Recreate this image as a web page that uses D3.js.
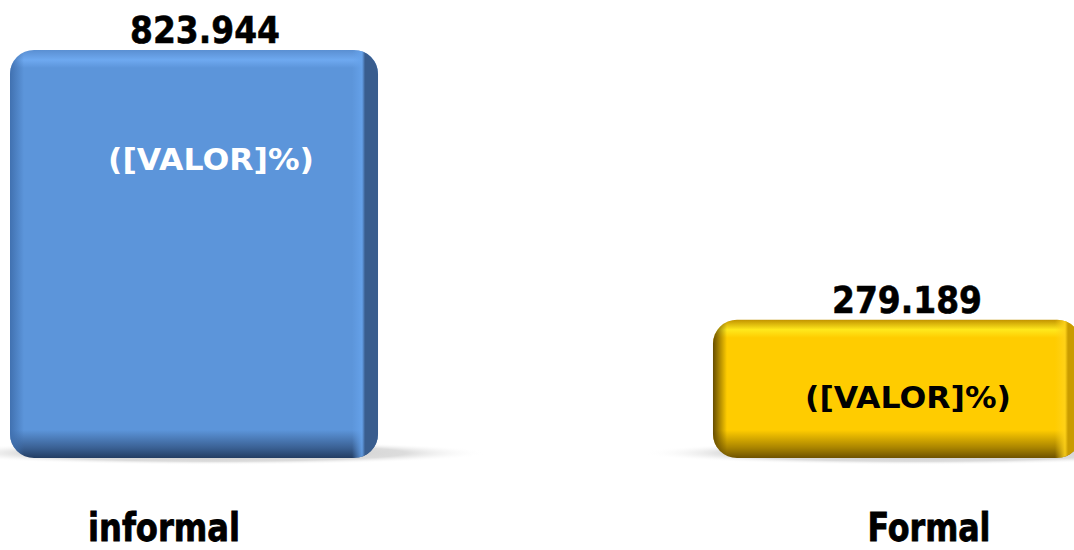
<!DOCTYPE html>
<html><head><meta charset="utf-8">
<script src="https://cdn.jsdelivr.net/npm/d3@7/dist/d3.min.js"></script>
<style>html,body{margin:0;padding:0;background:#fff;overflow:hidden}</style>
</head><body>
<svg id="c" width="1074" height="550"></svg>
<script>
const categories = ["informal", "Formal"];
const values = [823.944, 279.189];
const valueLabels = ["823.944", "279.189"];
const innerLabels = ["([VALOR]%)", "([VALOR]%)"];

const W = 1074, H = 550;
const svg = d3.select("#c");
const defs = svg.append("defs");

const x = d3.scaleBand().domain(categories).range([10, 1081]).paddingInner(0.4765).paddingOuter(0);
const y = d3.scaleLinear().domain([0, 823.944]).range([458, 50]);

const themes = [
  {base:"#5c95da", top:"#6ea9f0", topEdge:"#5a8fd2", bottom:"#233d63", left:"#3f6fae", right:"#395d8e", rightHi:"#66a2ea", text:"#ffffff"},
  {base:"#ffcc00", top:"#ffe81c", topEdge:"#c29300", bottom:"#6e5200", left:"#5e4600", right:"#c99c00", rightHi:"#ffd21a", text:"#000000"}
];

themes.forEach((t,i)=>{
  const v = defs.append("linearGradient").attr("id","v"+i).attr("x1",0).attr("y1",0).attr("x2",0).attr("y2",1);
  const hBar = y(0) - y(values[i]);
  const f = px => Math.min(1, px / hBar);
  v.append("stop").attr("offset",0).attr("stop-color",t.topEdge);
  v.append("stop").attr("offset",f(10)).attr("stop-color",t.top);
  v.append("stop").attr("offset",f(18)).attr("stop-color",t.base);
  v.append("stop").attr("offset",1-f(28)).attr("stop-color",t.base);
  v.append("stop").attr("offset",1-f(10)).attr("stop-color",d3.interpolateRgb(t.base,t.bottom)(0.6));
  v.append("stop").attr("offset",1).attr("stop-color",t.bottom);

  const h = defs.append("linearGradient").attr("id","h"+i).attr("x1",0).attr("y1",0).attr("x2",1).attr("y2",0);
  const bw = x.bandwidth();
  const g = px => px / bw;
  h.append("stop").attr("offset",0).attr("stop-color",t.left).attr("stop-opacity",0.95);
  h.append("stop").attr("offset",g(14)).attr("stop-color",t.left).attr("stop-opacity",0.0);
  h.append("stop").attr("offset",1-g(26)).attr("stop-color",t.rightHi).attr("stop-opacity",0.0);
  h.append("stop").attr("offset",1-g(16)).attr("stop-color",t.rightHi).attr("stop-opacity",0.9);
  h.append("stop").attr("offset",1-g(13)).attr("stop-color",t.right).attr("stop-opacity",1);
  h.append("stop").attr("offset",1).attr("stop-color",t.right).attr("stop-opacity",1);
});

// shadow gradient
const sg = defs.append("radialGradient").attr("id","shadow").attr("cx",0.5).attr("cy",0.5).attr("r",0.5);
sg.append("stop").attr("offset",0).attr("stop-color","#c4c4c4").attr("stop-opacity",1);
sg.append("stop").attr("offset",0.7).attr("stop-color","#d6d6d6").attr("stop-opacity",0.85);
sg.append("stop").attr("offset",1).attr("stop-color","#ffffff").attr("stop-opacity",0);

const bars = svg.append("g").selectAll("g").data(categories).join("g");

// shadows
bars.append("ellipse")
  .attr("cx",(d)=>x(d)+x.bandwidth()/2+20)
  .attr("cy",y(0)-5)
  .attr("rx",x.bandwidth()/2+90)
  .attr("ry",12)
  .attr("fill","url(#shadow)");

const r = 24;
bars.append("rect")
  .attr("x",d=>x(d)).attr("y",(d,i)=>y(values[i]))
  .attr("width",x.bandwidth()).attr("height",(d,i)=>y(0)-y(values[i]))
  .attr("rx",r).attr("ry",r)
  .attr("fill",(d,i)=>"url(#v"+i+")");
bars.append("rect")
  .attr("x",d=>x(d)).attr("y",(d,i)=>y(values[i]))
  .attr("width",x.bandwidth()).attr("height",(d,i)=>y(0)-y(values[i]))
  .attr("rx",r).attr("ry",r)
  .attr("fill",(d,i)=>"url(#h"+i+")");

// value labels
bars.append("text")
  .attr("x",(d,i)=>x(d)+x.bandwidth()/2 + (i===0?11:10))
  .attr("y",(d,i)=>y(values[i]) - 7)
  .attr("text-anchor","middle")
  .attr("font-family","'DejaVu Sans', sans-serif")
  .attr("font-weight","bold")
  .attr("font-size",38)
  .attr("stroke","#000").attr("stroke-width",0.6)
  .attr("textLength",150).attr("lengthAdjust","spacingAndGlyphs")
  .attr("fill","#000")
  .text((d,i)=>valueLabels[i]);

// inner labels
bars.append("text")
  .attr("x",(d,i)=>x(d)+x.bandwidth()/2 + (i===0?17:11))
  .attr("y",(d,i)=> i===0 ? y(values[i]) + 120 : y(values[i]) + 88)
  .attr("text-anchor","middle")
  .attr("font-family","'DejaVu Sans', sans-serif")
  .attr("font-weight","bold")
  .attr("font-size",31)
  .attr("textLength",206).attr("lengthAdjust","spacingAndGlyphs")
  .attr("fill",(d,i)=>themes[i].text)
  .text((d,i)=>innerLabels[i]);

// category labels
svg.append("g").selectAll("text").data(categories).join("text")
  .attr("x",(d,i)=>x(d)+x.bandwidth()/2 + (i===0?-30:32))
  .attr("y",541)
  .attr("text-anchor","middle")
  .attr("font-family","'Liberation Sans Narrow','DejaVu Sans Condensed',sans-serif")
  .attr("font-weight","bold")
  .attr("font-size",39)
  .attr("stroke","#000").attr("stroke-width",0.8)
  .attr("textLength",(d,i)=>i===0?152:123).attr("lengthAdjust","spacingAndGlyphs")
  .attr("fill","#000")
  .text(d=>d);
</script>
</body></html>
